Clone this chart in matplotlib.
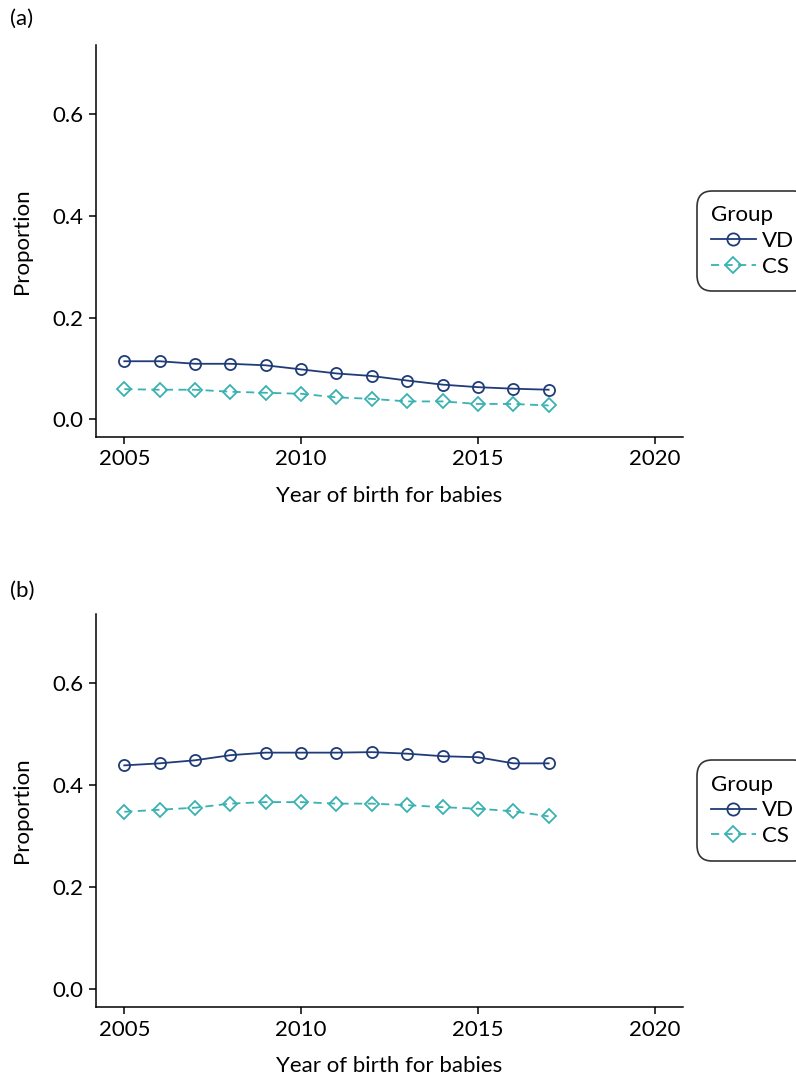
import matplotlib
matplotlib.use("Agg")
import matplotlib.pyplot as plt

years = list(range(2005, 2018))
vd_a = [0.114, 0.114, 0.109, 0.109, 0.106, 0.098, 0.090, 0.085, 0.076, 0.068, 0.063, 0.060, 0.058]
cs_a = [0.059, 0.058, 0.058, 0.054, 0.052, 0.050, 0.043, 0.040, 0.035, 0.035, 0.030, 0.030, 0.027]
vd_b = [0.439, 0.443, 0.449, 0.459, 0.464, 0.464, 0.464, 0.465, 0.462, 0.457, 0.455, 0.443, 0.443]
cs_b = [0.348, 0.352, 0.356, 0.364, 0.367, 0.367, 0.364, 0.364, 0.361, 0.357, 0.354, 0.349, 0.339]
panel_labels = ["(a)", "(b)"]
xticks = [2005, 2010, 2015, 2020]
yticks = [0.0, 0.2, 0.4, 0.6]

plt.rcParams['font.family'] = ['Lato', 'DejaVu Sans']
FS = 16
VD_COL = "#1f3c78"
CS_COL = "#38b2b2"

W, H = 796, 1077
fig = plt.figure(figsize=(W / 100, H / 100), dpi=100)

def add_axes(left, top, right, bottom):
    return fig.add_axes([left / W, 1 - bottom / H, (right - left) / W, (bottom - top) / H])

axes_px = [(96, 45, 683, 437), (96, 614, 683, 1007)]
data = [(vd_a, cs_a), (vd_b, cs_b)]
label_pos = [(10, 19), (10, 591)]

for (l, t, r, b), (vd, cs), lab, (lx, ly) in zip(axes_px, data, panel_labels, label_pos):
    ax = add_axes(l, t, r, b)
    ax.plot(years, vd, color=VD_COL, lw=1.3, marker='o', ms=8, mfc='none',
            mec=VD_COL, mew=1.3, label='VD')
    ax.plot(years, cs, color=CS_COL, lw=1.3, ls=(0, (4.5, 3)), marker='D', ms=7,
            mfc='none', mec=CS_COL, mew=1.3, label='CS')
    ax.set_xlim(2004.2, 2020.8)
    ax.set_ylim(-0.035, 0.736)
    ax.set_xticks(xticks)
    ax.set_yticks(yticks)
    ax.set_yticklabels([f"{v:.1f}" for v in yticks])
    for s in ['top', 'right']:
        ax.spines[s].set_visible(False)
    for s in ['left', 'bottom']:
        ax.spines[s].set_linewidth(1.1)
    ax.tick_params(axis='both', labelsize=FS, length=5, width=1.1, direction='out', pad=4)
    ax.set_xlabel("Year of birth for babies", fontsize=FS, labelpad=12)
    ax.set_ylabel("Proportion", fontsize=FS, labelpad=15)
    leg = ax.legend(title="Group", loc='center left', bbox_to_anchor=(1.033, 0.5),
                    fontsize=FS, title_fontsize=FS, frameon=True, fancybox=True,
                    handlelength=2.0, handletextpad=0.3, borderpad=0.4,
                    labelspacing=0.25, borderaxespad=0, markerscale=1.1)
    leg._legend_box.align = "left"
    fr = leg.get_frame()
    fr.set_edgecolor('black')
    fr.set_linewidth(1.2)
    fr.set_boxstyle('round,pad=0.25,rounding_size=0.7')
    fig.text(lx / W, 1 - ly / H, lab, fontsize=FS, va='center', ha='left')

fig.savefig("out.png", dpi=100)
